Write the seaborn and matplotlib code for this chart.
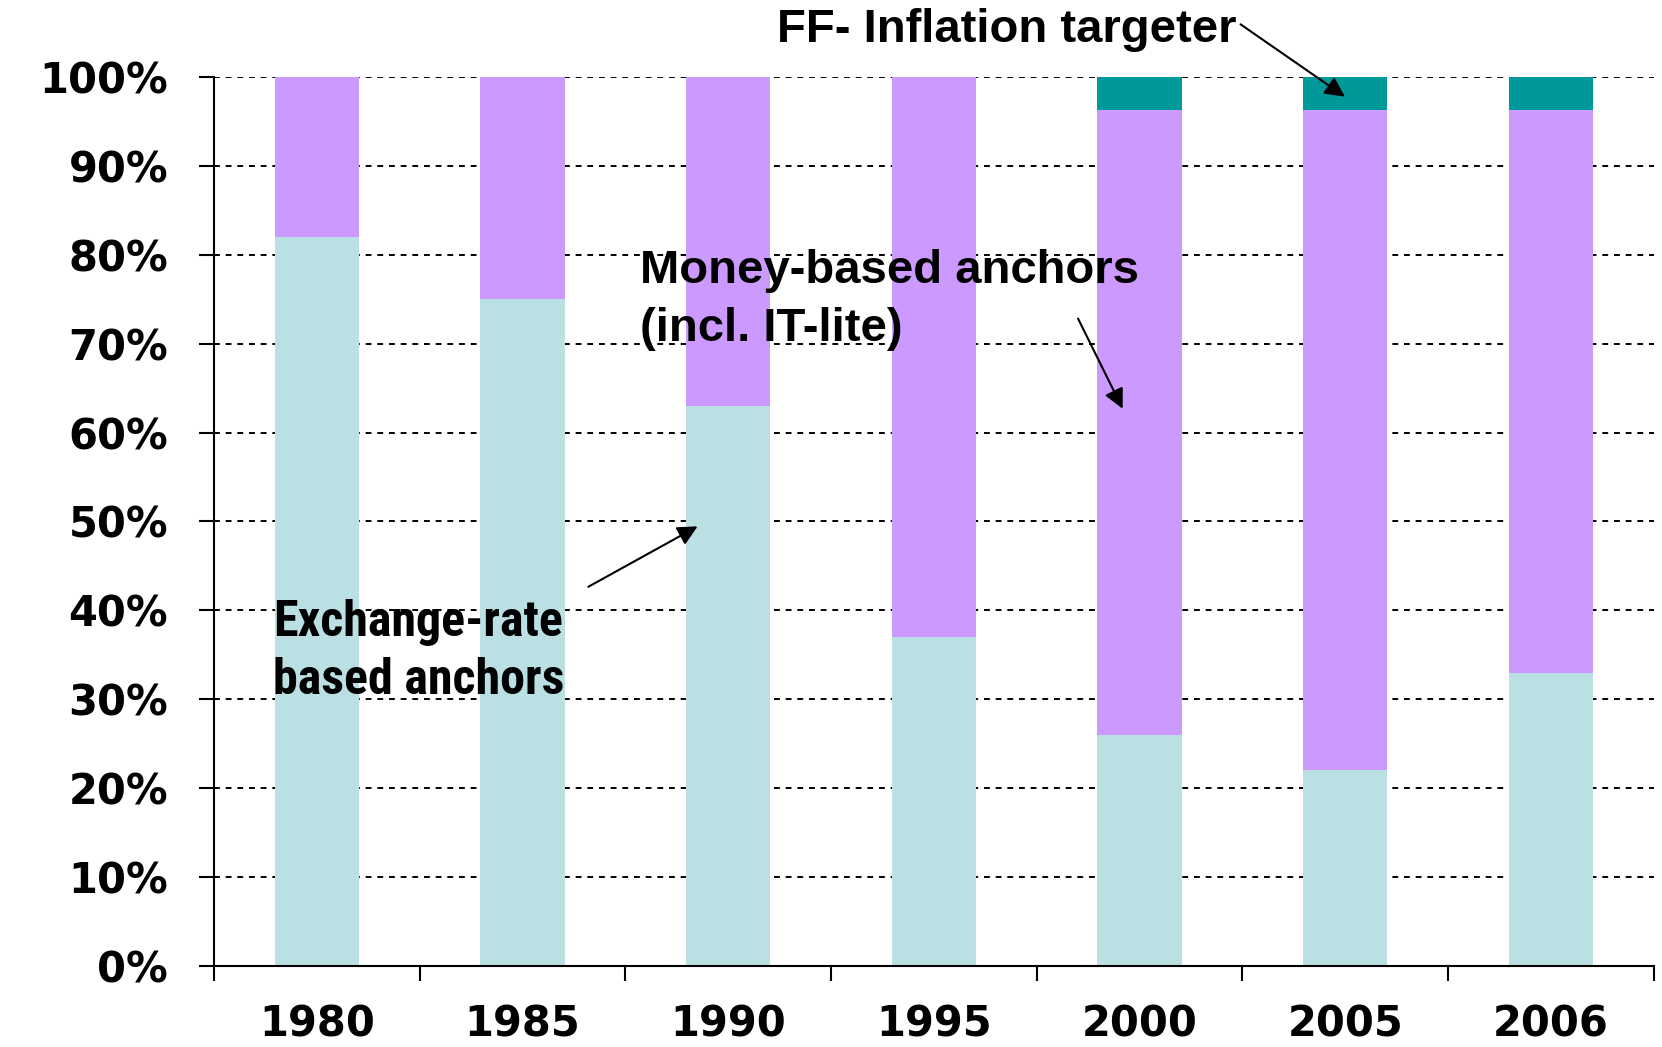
import numpy as np
import pandas as pd
import matplotlib
matplotlib.use("Agg")
import matplotlib.pyplot as plt
import seaborn as sns
from matplotlib import font_manager

# data (share of countries, %)
years = ["1980", "1985", "1990", "1995", "2000", "2005", "2006"]
exchange_rate = [82, 75, 63, 37, 26, 22, 33]
inflation_target = [0, 0, 0, 0, 3.7, 3.7, 3.7]
money_based = [100 - e - f for e, f in zip(exchange_rate, inflation_target)]
y_ticks = [0, 10, 20, 30, 40, 50, 60, 70, 80, 90, 100]

c_exchange = "#BAE0E3"
c_money = "#CC99FF"
c_target = "#009999"

sns.set_style("white")
plt.rcParams["font.family"] = ["DejaVu Sans"]
plt.rcParams["text.color"] = "black"
plt.rcParams["xtick.color"] = "black"
plt.rcParams["ytick.color"] = "black"

# pick a condensed bold face for the exchange-rate label if one exists
names = {f.name for f in font_manager.fontManager.ttflist}
narrow_kw = dict(family="DejaVu Sans", fontstretch="condensed")
for cand in ["Liberation Sans Narrow", "Roboto Condensed", "Open Sans Condensed"]:
    if cand in names:
        narrow_kw = dict(family=cand)
        break

fig = plt.figure(figsize=(16.62, 10.47), dpi=100)
ax = fig.add_axes([0.1288, 0.0774, 0.8662, 0.8491])

df = pd.DataFrame({"year": years, "er": exchange_rate, "money": money_based, "ff": inflation_target})
df["base2"] = df["er"]
df["base3"] = df["er"] + df["money"]

sns.barplot(data=df, x="year", y="er", color=c_exchange, saturation=1, width=0.41, ax=ax, linewidth=0)
sns.barplot(data=df, x="year", y="money", bottom=df["base2"], color=c_money, saturation=1,
            width=0.41, ax=ax, linewidth=0)
sns.barplot(data=df, x="year", y="ff", bottom=df["base3"], color=c_target, saturation=1,
            width=0.41, ax=ax, linewidth=0)

ax.set_xlim(-0.5, 6.5)
ax.set_ylim(0, 100)
ax.set_xlabel("")
ax.set_ylabel("")

# axes styling
ax.set_yticks(y_ticks)
ax.set_yticklabels([f"{t}%" for t in y_ticks], fontsize=30, fontweight="bold")
ax.set_xticks(range(len(years)))
ax.set_xticklabels(years, fontsize=30, fontweight="bold")
ax.set_xticks(np.arange(-0.5, 7, 1), minor=True)
ax.tick_params(axis="x", which="major", length=0, pad=27, bottom=True)
ax.tick_params(axis="x", which="minor", length=11, width=1.5, direction="out", bottom=True)
ax.tick_params(axis="y", length=11, width=1.5, direction="out", pad=22, left=True)

ax.yaxis.grid(True, linestyle=(0, (3, 3)), color="black", linewidth=1.4)
ax.xaxis.grid(False)
ax.set_axisbelow(True)
for s in ["top", "right"]:
    ax.spines[s].set_visible(False)
for s in ["left", "bottom"]:
    ax.spines[s].set_color("black")
    ax.spines[s].set_linewidth(1.5)

# annotations
arrow = dict(arrowstyle="-|>", color="black", lw=1.5, mutation_scale=30)
ax.annotate("", xy=(5.01, 97.6), xytext=(4.48, 106.1), arrowprops=arrow, annotation_clip=False)
ax.text(2.237, 105.3, "FF- Inflation targeter", fontsize=34, fontweight="bold",
        family="Liberation Sans", ha="left", va="center", clip_on=False)

ax.annotate("", xy=(3.924, 62.4), xytext=(3.695, 73.1), arrowprops=arrow)
ax.text(1.571, 74.9, "Money-based anchors\n(incl. IT-lite)", fontsize=34, fontweight="bold",
        family="Liberation Sans", ha="left", va="center", linespacing=1.4)

ax.annotate("", xy=(1.863, 49.6), xytext=(1.308, 42.5), arrowprops=arrow)
ax.text(-0.213, 35.4, "Exchange-rate\nbased anchors", fontsize=36, fontweight="bold",
        ha="left", va="center", linespacing=1.3, **narrow_kw)

fig.savefig("out.png", dpi=100)
